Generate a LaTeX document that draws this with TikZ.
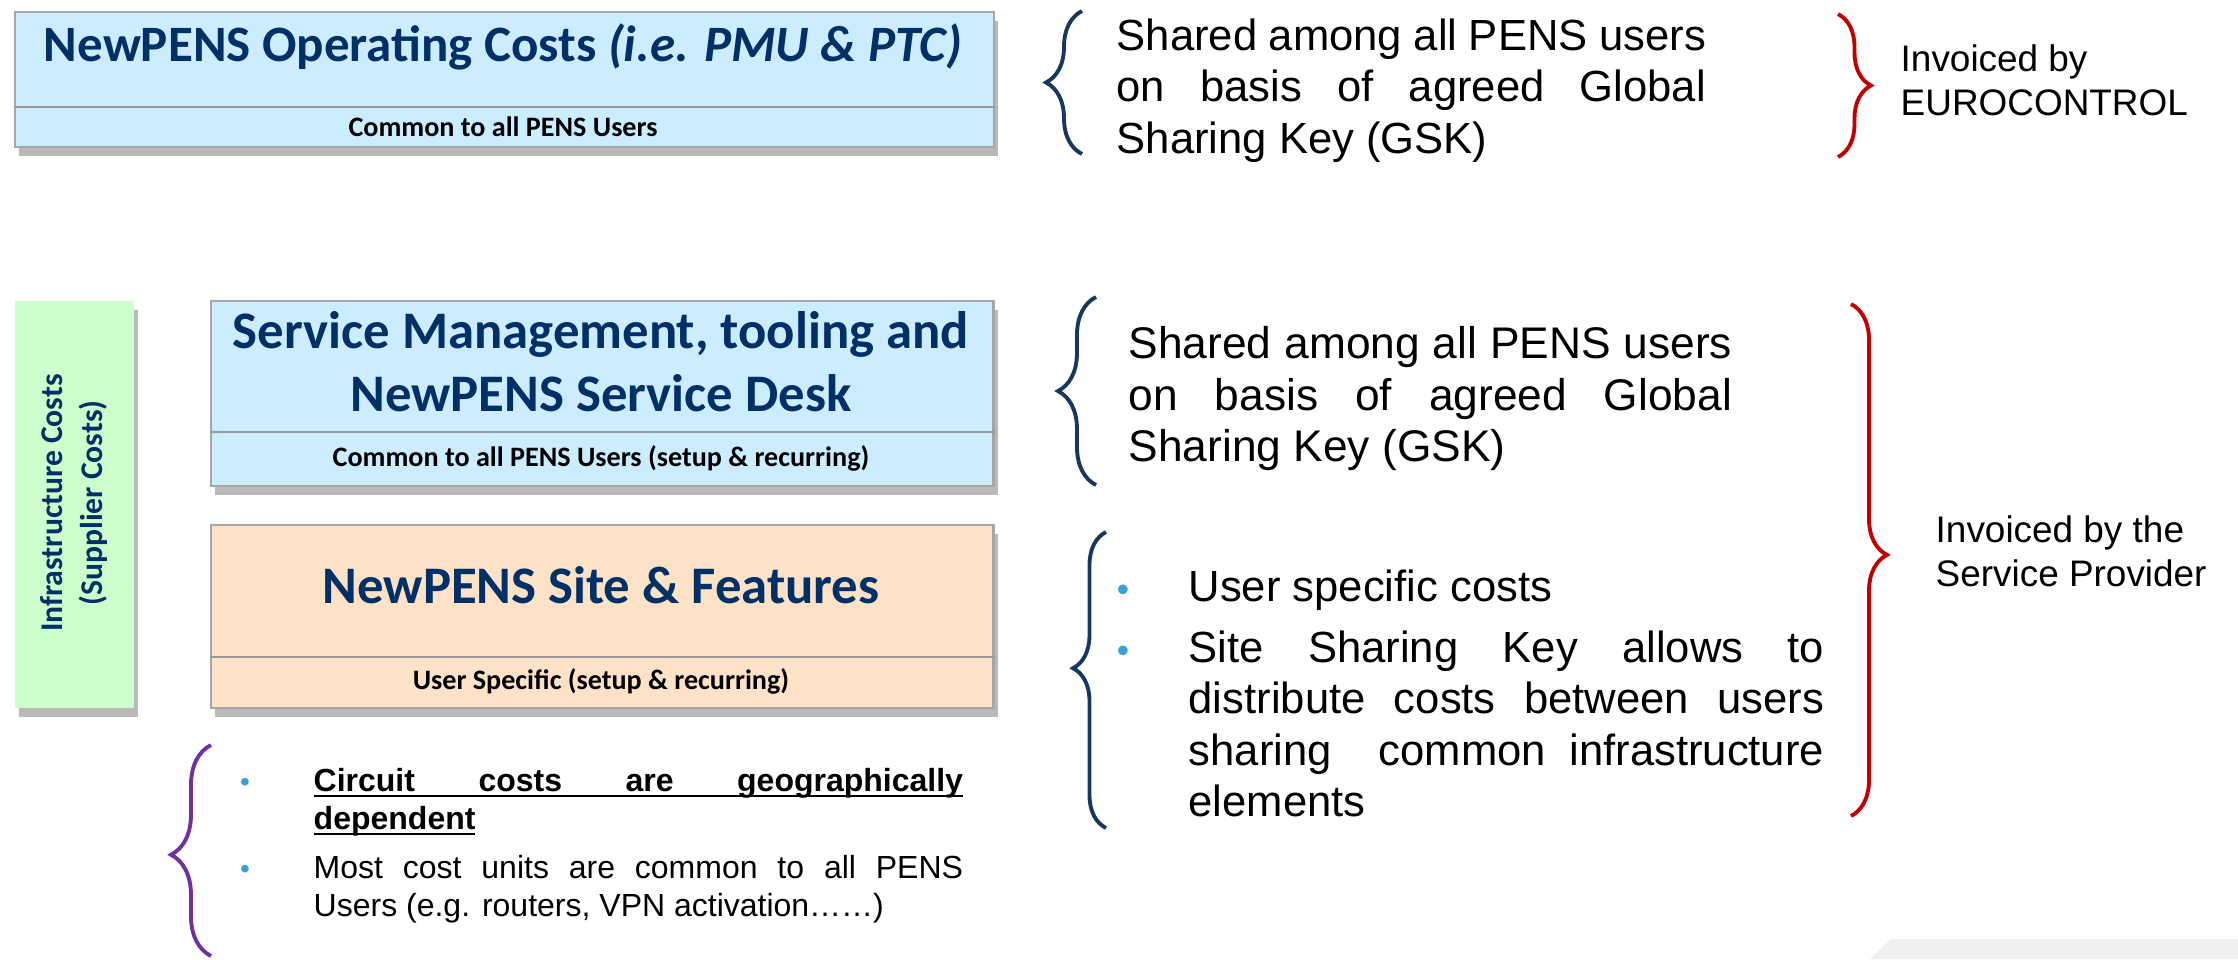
\documentclass[tikz,border=0pt]{standalone}
\usepackage{fontspec}
\setmainfont{Liberation Sans}
\newfontfamily\calibri{Carlito}
\usetikzlibrary{shadows,decorations.pathreplacing}
\definecolor{titleblue}{RGB}{0,48,102}
\definecolor{paleblue}{RGB}{204,236,255}
\definecolor{palepeach}{RGB}{253,226,200}
\definecolor{palegreen}{RGB}{204,255,204}
\definecolor{navybrace}{RGB}{23,55,94}
\definecolor{redbrace}{RGB}{192,0,0}
\definecolor{purplebrace}{RGB}{112,48,160}
\definecolor{bulletblue}{RGB}{58,160,216}
\definecolor{cornergray}{RGB}{240,240,240}
\newcommand{\jline}[2]{\makebox[#1][s]{#2}}
\newsavebox{\ulsave}
\newcommand{\ulined}[1]{\sbox{\ulsave}{#1}\rlap{\usebox{\ulsave}}\rule[-1.5pt]{\wd\ulsave}{0.6pt}}

\begin{document}
\begin{tikzpicture}[x=0.01cm, y=-0.01cm,
	costbox/.style={draw=black!35, line width=0.6pt, anchor=north west, inner sep=0pt,
		drop shadow={shadow xshift=0.4mm, shadow yshift=-0.9mm, fill=black!50, opacity=0.55}},
	divider/.style={draw=black!40, line width=0.8pt},
	boxtitle/.style={font=\calibri\bfseries\fontsize{15}{18}\selectfont, text=titleblue, align=center},
	boxnote/.style={font=\calibri\bfseries\fontsize{8}{10}\selectfont},
	curly/.style={decorate, decoration={brace, amplitude=#1}, line width=1.1pt},
	bigtext/.style={font=\fontsize{12.4}{14.6}\selectfont, anchor=north west, inner sep=0pt, align=left},
	midtext/.style={font=\fontsize{10.5}{12.6}\selectfont, anchor=north west, inner sep=0pt, align=left},
	smalltext/.style={font=\fontsize{9.1}{10.8}\selectfont, anchor=north west, inner sep=0pt, align=left},
	dot/.style={text=bulletblue, anchor=base, inner sep=0pt}]
	%%%%% START %%%%%
	\useasboundingbox (0,0) rectangle (2238,959);
	
	% operating costs
	\node[costbox, fill=paleblue, minimum width=9.78cm, minimum height=1.35cm] (opbox) at (14,11) {};
	\draw[divider] (opbox.west |- 0,107) -- (opbox.east |- 0,107);
	\node[boxtitle, font=\calibri\bfseries\fontsize{14.5}{17}\selectfont] (optitle) at (503,47) {NewPENS Operating Costs \textit{(i.e. PMU \& PTC)}};
	\node[boxnote] (opnote) at (503,127) {Common to all PENS Users};
	
	% infrastructure
	\node[anchor=north west, fill=palegreen, minimum width=1.19cm, minimum height=4.07cm, inner sep=0pt,
		drop shadow={shadow xshift=0.4mm, shadow yshift=-0.9mm, fill=black!50, opacity=0.55}] (infrabox) at (14,300) {};
	\node[rotate=90, font=\calibri\bfseries\fontsize{9}{11.4}\selectfont, text=titleblue, align=center] (infra) at (74,503) {Infrastructure Costs\\(Supplier Costs)};
	
	\node[costbox, fill=paleblue, minimum width=7.82cm, minimum height=1.85cm] (smbox) at (210,300) {};
	\draw[divider] (smbox.west |- 0,432) -- (smbox.east |- 0,432);
	\node[boxtitle] (smtitle) at (601,362) {Service Management, tooling and\\NewPENS Service Desk};
	\node[boxnote] (smnote) at (601,458) {Common to all PENS Users (setup \& recurring)};
	
	\node[costbox, fill=palepeach, minimum width=7.82cm, minimum height=1.83cm] (sitebox) at (210,524) {};
	\draw[divider] (sitebox.west |- 0,657) -- (sitebox.east |- 0,657);
	\node[boxtitle] (sitetitle) at (601,585) {NewPENS Site \& Features};
	\node[boxnote] (sitenote) at (601,681) {User Specific (setup \& recurring)};
	
	% braces
	\draw[curly=0.36cm, navybrace] (1082,154) -- (1082,11);
	\draw[curly=0.33cm, redbrace] (1838,14) -- (1838,157);
	\draw[curly=0.38cm, navybrace] (1096,485) -- (1096,297);
	\draw[curly=0.33cm, navybrace, decoration={aspect=0.54}] (1106,828) -- (1106,532);
	\draw[curly=0.36cm, redbrace, decoration={aspect=0.49}] (1851,304) -- (1851,816);
	\draw[curly=0.4cm, purplebrace, decoration={aspect=0.48}] (211,956) -- (211,745);
	
	% texts
	\node[bigtext] (gsk1) at (1116,18) {\jline{5.89cm}{Shared among all PENS users}\\ \jline{5.89cm}{on basis of agreed Global}\\ Sharing Key (GSK)};
	\node[midtext] (inv1) at (1900,44) {Invoiced by\\EUROCONTROL};
	
	\node[bigtext, font=\fontsize{12.6}{14.6}\selectfont] (gsk2) at (1128,326) {\jline{6.03cm}{Shared among all PENS users}\\ \jline{6.03cm}{on basis of agreed Global}\\ Sharing Key (GSK)};
	
	\node[dot, font=\fontsize{10}{12}\selectfont] (d1) at (1123,601) {\textbullet};
	\node[bigtext] (user1) at (1188,569) {User specific costs};
	\node[dot, font=\fontsize{10}{12}\selectfont] (d2) at (1123,662) {\textbullet};
	\node[bigtext] (user2) at (1188,630) {\jline{6.35cm}{Site Sharing Key allows to}\\ \jline{6.35cm}{distribute costs between users}\\ \jline{6.35cm}{sharing \ common infrastructure}\\ elements};
	
	\node[midtext] (inv2) at (1935,515) {Invoiced by the\\Service Provider};
	
	\node[dot, font=\fontsize{8}{10}\selectfont] (d3) at (245,791) {\textbullet};
	\node[smalltext] (circ1) at (313,768) {\ulined{\jline{6.49cm}{\bfseries Circuit costs are geographically}}\\ \ulined{\bfseries dependent}};
	\node[dot, font=\fontsize{8}{10}\selectfont] (d4) at (245,878) {\textbullet};
	\node[smalltext] (circ2) at (313,855) {\jline{6.49cm}{Most cost units are common to all PENS}\\ Users (e.g. routers, VPN activation……)};
	
	\fill[cornergray] (1870,959) -- (1891,939) -- (2238,939) -- (2238,959) -- cycle;
	%%%%% END %%%%%
\end{tikzpicture}
\end{document}
